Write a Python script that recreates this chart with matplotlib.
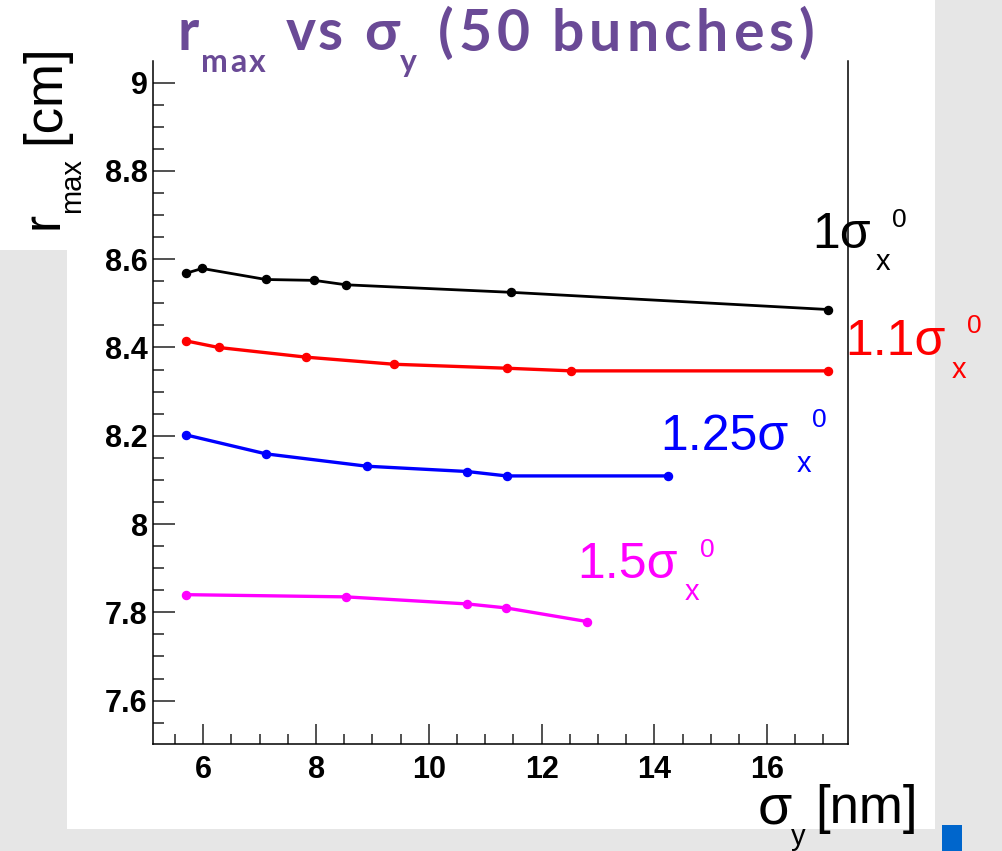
import matplotlib
matplotlib.use("Agg")
import matplotlib.pyplot as plt
from matplotlib.patches import Rectangle
from matplotlib.ticker import MultipleLocator

# ---------------- data ----------------
sigma_y_1 = [5.69, 5.98, 7.11, 7.97, 8.53, 11.45, 17.08]
rmax_1 = [8.568, 8.579, 8.554, 8.552, 8.542, 8.525, 8.486]

sigma_y_11 = [5.69, 6.27, 7.83, 9.38, 11.38, 12.53, 17.08]
rmax_11 = [8.415, 8.400, 8.378, 8.362, 8.353, 8.347, 8.347]

sigma_y_125 = [5.69, 7.11, 8.90, 10.68, 11.38, 14.25]
rmax_125 = [8.202, 8.159, 8.131, 8.119, 8.109, 8.109]

sigma_y_15 = [5.69, 8.53, 10.68, 11.37, 12.81]
rmax_15 = [7.840, 7.835, 7.819, 7.810, 7.779]

series_labels = ["1", "1.1", "1.25", "1.5"]
series_colors = ["#000000", "#ff0000", "#0000ff", "#ff00ff"]

x_ticks = [6, 8, 10, 12, 14, 16]
y_ticks = [7.6, 7.8, 8.0, 8.2, 8.4, 8.6, 8.8, 9.0]
y_tick_labels = ["7.6", "7.8", "8", "8.2", "8.4", "8.6", "8.8", "9"]

# ---------------- figure ----------------
W, H = 1003, 851
DPI = 100
fig = plt.figure(figsize=(W / DPI, H / DPI), dpi=DPI)
GRAY = "#e6e6e6"
fig.patch.set_facecolor(GRAY)


def fx(px):
    return px / W


def fy(py):
    return 1 - py / H


# white panels
fig.add_artist(Rectangle((0, fy(250)), fx(935), 1 - fy(250), transform=fig.transFigure,
                         facecolor="white", edgecolor="none", zorder=-2))
fig.add_artist(Rectangle((fx(67), fy(829)), fx(935 - 67), fy(250) - fy(829),
                         transform=fig.transFigure, facecolor="white", edgecolor="none", zorder=-2))
# small blue block
fig.add_artist(Rectangle((fx(942), 0), fx(20), 1 - fy(26), transform=fig.transFigure,
                         facecolor="#0066cc", edgecolor="none", zorder=-1))

ax_l, ax_r, ax_t, ax_b = 153.3, 848.3, 61, 744.3
ax = fig.add_axes([fx(ax_l), fy(ax_b), fx(ax_r - ax_l), fy(ax_t) - fy(ax_b)])
ax.set_facecolor("none")

ax.set_xlim(5.113, 17.44)
ax.set_ylim(7.501, 9.049)

all_x = [sigma_y_1, sigma_y_11, sigma_y_125, sigma_y_15]
all_y = [rmax_1, rmax_11, rmax_125, rmax_15]
lws = [2.0, 2.4, 2.4, 2.4]
for xs, ys, c, lw in zip(all_x, all_y, series_colors, lws):
    ax.plot(xs, ys, color=c, lw=lw, marker="o", ms=5.8, mec=c, mfc=c, solid_joinstyle="round",
            clip_on=False)

ax.spines["top"].set_visible(False)
for s in ["left", "bottom", "right"]:
    ax.spines[s].set_linewidth(1.1)
    ax.spines[s].set_color("black")

ax.set_xticks(x_ticks)
ax.set_xticklabels([str(v) for v in x_ticks])
ax.set_yticks(y_ticks)
ax.set_yticklabels(y_tick_labels)
ax.xaxis.set_minor_locator(MultipleLocator(0.5))
ax.yaxis.set_minor_locator(MultipleLocator(0.05))
ax.tick_params(axis="x", which="major", direction="in", length=14.4, width=1.2, color="#333333",
               pad=8, top=False)
ax.tick_params(axis="x", which="minor", direction="in", length=7.2, width=1.2, color="#333333",
               top=False)
ax.tick_params(axis="y", which="major", direction="in", length=15.8, width=1.2, color="#333333",
               pad=4, right=False)
ax.tick_params(axis="y", which="minor", direction="in", length=7.9, width=1.2, color="#333333",
               right=False)
for lab in ax.get_xticklabels() + ax.get_yticklabels():
    lab.set_fontfamily(["Liberation Sans", "DejaVu Sans"])
    lab.set_fontweight("bold")
    lab.set_fontsize(22)

SANS = ["Liberation Sans", "DejaVu Sans"]


def ptxt(px, py, s, size, color="black", family=SANS, weight="normal", rot=0):
    return fig.text(fx(px), fy(py), s, fontsize=size, color=color, family=family,
                    weight=weight, ha="left", va="baseline", rotation=rot,
                    rotation_mode="anchor")


# ---------------- title with letter tracking ----------------
TITLE_C = "#6a4a96"
TFAM = ["Lato", "DejaVu Sans"]
renderer = fig.canvas.get_renderer()


def tracked(s, x0, x1, py, size):
    # place characters so that the string spans from x0 to x1 (pixels)
    widths = []
    for ch in s:
        if ch == " ":
            widths.append(None)
            continue
        t = fig.text(0, 0, ch, fontsize=size, family=TFAM, weight="bold")
        bb = t.get_window_extent(renderer)
        widths.append(bb.width)
        t.remove()
    avg = sum(w for w in widths if w is not None) / max(1, sum(1 for w in widths if w is not None))
    widths = [w if w is not None else avg * 0.45 for w in widths]
    total = sum(widths)
    extra = max(1.5, (x1 - x0 - total) / max(1, len(s) - 1))
    x = x0
    for ch, w in zip(s, widths):
        if ch != " ":
            fig.text(fx(x), fy(py), ch, fontsize=size, family=TFAM, weight="bold",
                     color=TITLE_C, ha="left", va="baseline")
        x += w + extra


tracked("r", 178, 197, 50, 41)
tracked("max", 201, 266, 72, 23)
tracked("vs", 286, 342, 50, 41)
tracked("σ", 364, 398, 50, 41)
tracked("y", 400, 419, 72, 23)
tracked("(50 bunches)", 438, 814, 51, 41)

# ---------------- axis labels ----------------
ptxt(58, 229, "r", 37, rot=90)
ptxt(80, 213, "max", 21, rot=90)
ptxt(59, 144, "[cm]", 38, rot=90)

ptxt(758, 823, "σ", 40)
ptxt(791, 845, "y", 21)
ptxt(815, 823, "[nm]", 38)

# ---------------- series labels ----------------
lab_pos = [
    # main start x, main baseline, sub x, sub baseline, sup x, sup baseline
    (812, 248, 876, 270, 892, 227),
    (845, 355, 952, 378, 967, 333),
    (660, 450, 797, 472, 812, 427),
    (577, 578, 685, 600, 700, 557),
]
for name, c, (mx, my, sx, sy, ux, uy) in zip(series_labels, series_colors, lab_pos):
    ptxt(mx, my, name + "σ", 36, color=c)
    ptxt(sx, sy, "x", 21, color=c)
    ptxt(ux, uy, "0", 19, color=c)

fig.savefig("out.png", dpi=DPI, facecolor=fig.get_facecolor())
